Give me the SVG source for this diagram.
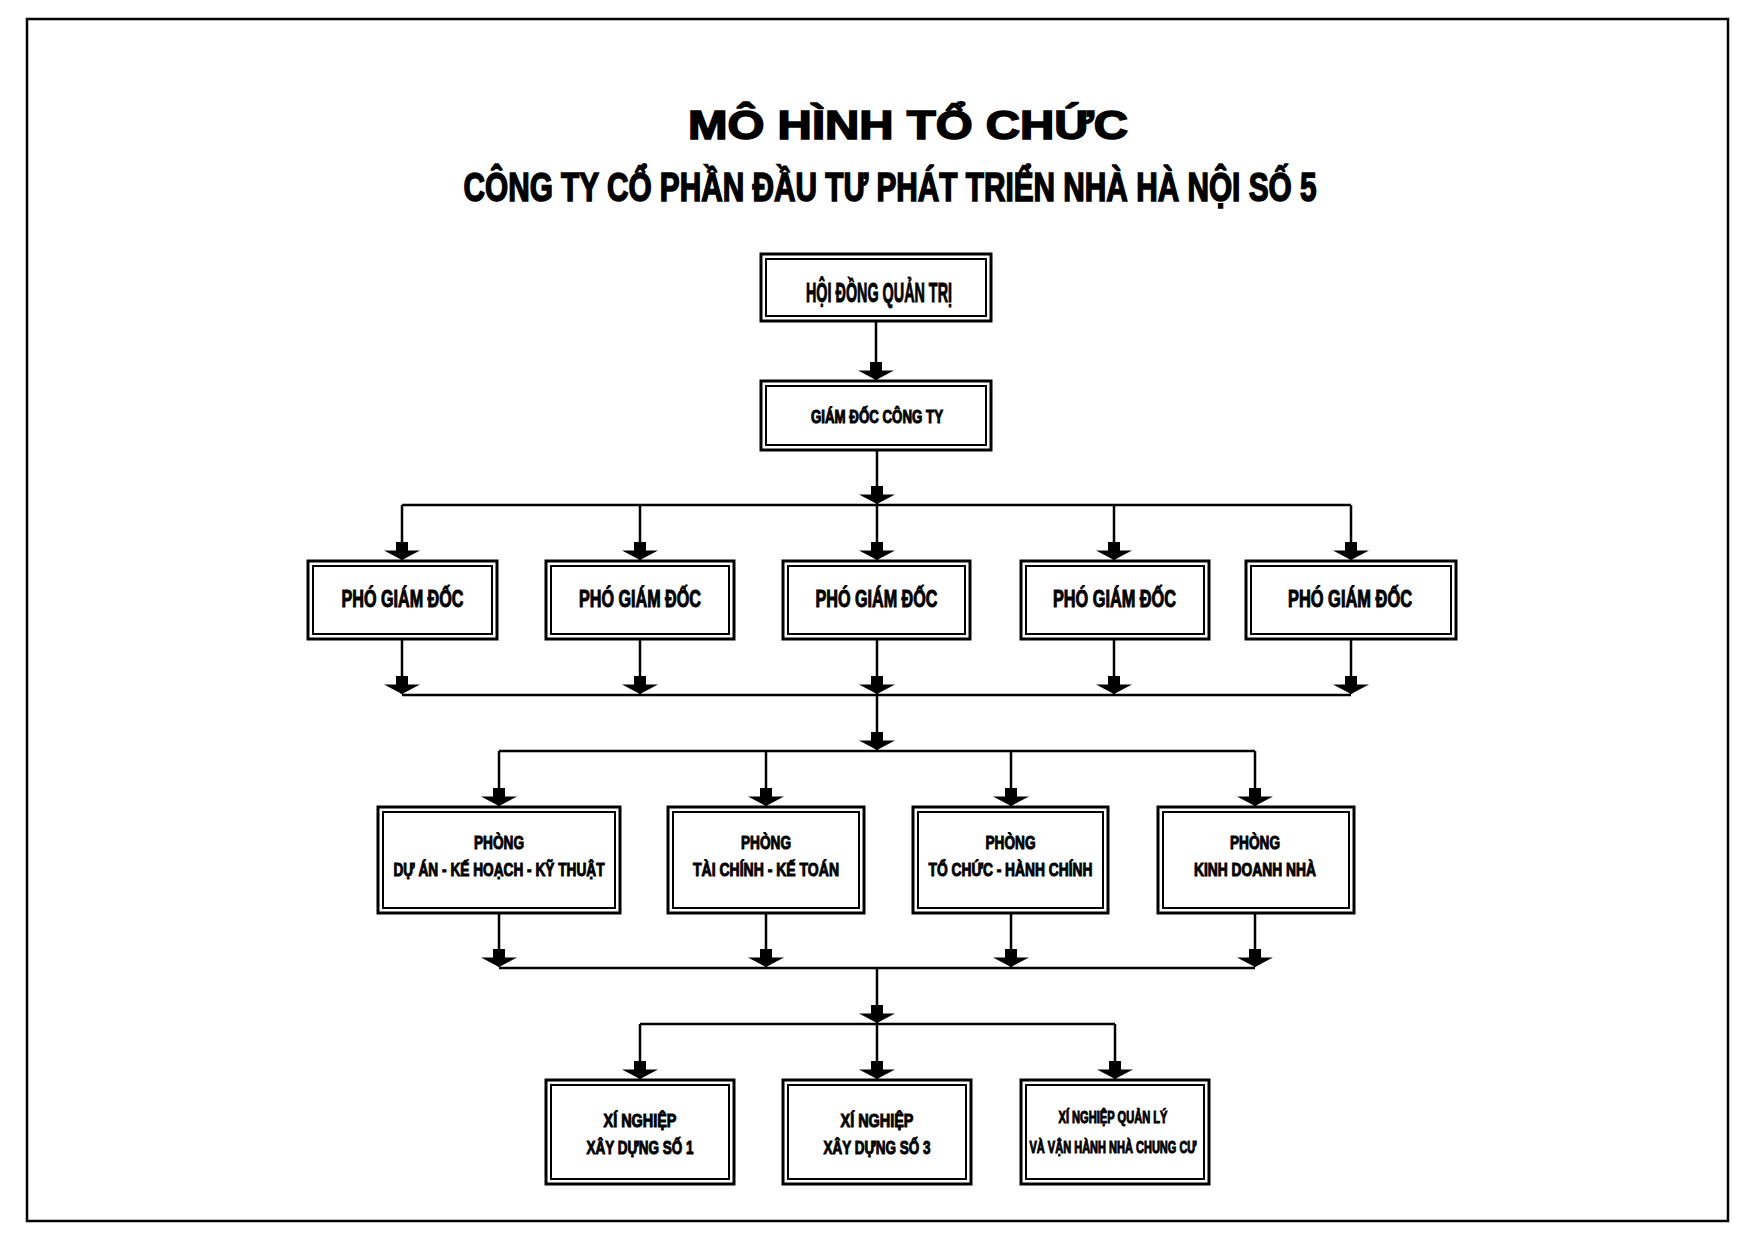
<svg xmlns="http://www.w3.org/2000/svg" xmlns:xlink="http://www.w3.org/1999/xlink" width="1754" height="1240" viewBox="0 0 1754 1240">
<style>
.o{fill:#fff;stroke:#000;stroke-width:3}
.i{fill:none;stroke:#000;stroke-width:2}
.ln{fill:none;stroke:#000;stroke-width:2.5}
.t{font-family:"Liberation Sans",Arial,sans-serif;font-weight:bold;fill:#000;stroke:#000;stroke-width:1;text-anchor:middle}
.title{font-family:"Liberation Sans",Arial,sans-serif;font-weight:bold;fill:#000;stroke:#000;stroke-width:1.6;text-anchor:middle}
</style>
<defs>
<path id="ah" d="M-6,-18 H6 V-9.5 H18 L0,0 L-18,-9.5 H-6 Z" fill="#000"/>
</defs>
<rect x="27" y="19" width="1701" height="1202" fill="#fff" stroke="#000" stroke-width="2.5"/>
<g id="titles">
<text class="title" x="908" y="139" font-size="40" textLength="440" lengthAdjust="spacingAndGlyphs">MÔ HÌNH TỔ CHỨC</text>
<text class="title" x="890" y="201" font-size="41" textLength="853" lengthAdjust="spacingAndGlyphs">CÔNG TY CỔ PHẦN ĐẦU TƯ PHÁT TRIỂN NHÀ HÀ NỘI SỐ 5</text>
</g>
<g id="connectors">
<path class="ln" d="M876,321 V380 M877,450 V560 M402,505 H1351 M402,505 V560 M640,505 V560 M1114,505 V560 M1351,505 V560"/>
<path class="ln" d="M402,639 V694 M640,639 V694 M877,639 V694 M1114,639 V694 M1351,639 V694 M402,695 H1351"/>
<path class="ln" d="M877,695 V750 M499,751 H1255 M499,751 V806 M766,751 V806 M1011,751 V806 M1255,751 V806"/>
<path class="ln" d="M499,913 V967 M766,913 V967 M1011,913 V967 M1255,913 V967 M499,968 H1255"/>
<path class="ln" d="M877,968 V1079 M640,1024 H1115 M640,1024 V1079 M1115,1024 V1079"/>
<use xlink:href="#ah" x="876" y="380"/>
<use xlink:href="#ah" x="877" y="504"/>
<use xlink:href="#ah" x="402" y="560"/>
<use xlink:href="#ah" x="640" y="560"/>
<use xlink:href="#ah" x="877" y="560"/>
<use xlink:href="#ah" x="1114" y="560"/>
<use xlink:href="#ah" x="1351" y="560"/>
<use xlink:href="#ah" x="402" y="694"/>
<use xlink:href="#ah" x="640" y="694"/>
<use xlink:href="#ah" x="877" y="694"/>
<use xlink:href="#ah" x="1114" y="694"/>
<use xlink:href="#ah" x="1351" y="694"/>
<use xlink:href="#ah" x="877" y="750"/>
<use xlink:href="#ah" x="499" y="806"/>
<use xlink:href="#ah" x="766" y="806"/>
<use xlink:href="#ah" x="1011" y="806"/>
<use xlink:href="#ah" x="1255" y="806"/>
<use xlink:href="#ah" x="499" y="967"/>
<use xlink:href="#ah" x="766" y="967"/>
<use xlink:href="#ah" x="1011" y="967"/>
<use xlink:href="#ah" x="1255" y="967"/>
<use xlink:href="#ah" x="877" y="1023"/>
<use xlink:href="#ah" x="640" y="1079"/>
<use xlink:href="#ah" x="877" y="1079"/>
<use xlink:href="#ah" x="1115" y="1079"/>
</g>
<g id="hdqt">
<rect class="o" x="761" y="254" width="230" height="67"/>
<rect class="i" x="766" y="259" width="220" height="57"/>
<text class="t" x="879" y="302" font-size="28" textLength="146" lengthAdjust="spacingAndGlyphs">HỘI ĐỒNG QUẢN TRỊ</text>
</g>
<g id="gd">
<rect class="o" x="761" y="381" width="230" height="69"/>
<rect class="i" x="766" y="386" width="220" height="59"/>
<text class="t" x="877" y="423" font-size="17.5" textLength="132" lengthAdjust="spacingAndGlyphs">GIÁM ĐỐC CÔNG TY</text>
</g>
<g id="pgd1">
<rect class="o" x="308" y="561" width="189" height="78"/>
<rect class="i" x="313" y="566" width="179" height="68"/>
<text class="t" x="402.5" y="607" font-size="23" textLength="122" lengthAdjust="spacingAndGlyphs">PHÓ GIÁM ĐỐC</text>
</g>
<g id="pgd2">
<rect class="o" x="546" y="561" width="188" height="78"/>
<rect class="i" x="551" y="566" width="178" height="68"/>
<text class="t" x="640" y="607" font-size="23" textLength="122" lengthAdjust="spacingAndGlyphs">PHÓ GIÁM ĐỐC</text>
</g>
<g id="pgd3">
<rect class="o" x="783" y="561" width="187" height="78"/>
<rect class="i" x="788" y="566" width="177" height="68"/>
<text class="t" x="876.5" y="607" font-size="23" textLength="122" lengthAdjust="spacingAndGlyphs">PHÓ GIÁM ĐỐC</text>
</g>
<g id="pgd4">
<rect class="o" x="1021" y="561" width="188" height="78"/>
<rect class="i" x="1026" y="566" width="178" height="68"/>
<text class="t" x="1114.5" y="607" font-size="23" textLength="123" lengthAdjust="spacingAndGlyphs">PHÓ GIÁM ĐỐC</text>
</g>
<g id="pgd5">
<rect class="o" x="1246" y="561" width="210" height="78"/>
<rect class="i" x="1251" y="566" width="200" height="68"/>
<text class="t" x="1350" y="607" font-size="23" textLength="124" lengthAdjust="spacingAndGlyphs">PHÓ GIÁM ĐỐC</text>
</g>
<g id="phong1">
<rect class="o" x="378" y="807" width="242" height="106"/>
<rect class="i" x="383" y="812" width="232" height="96"/>
<text class="t" x="499" y="849" font-size="18.5" textLength="50" lengthAdjust="spacingAndGlyphs">PHÒNG</text>
<text class="t" x="499" y="876" font-size="18.5" textLength="211" lengthAdjust="spacingAndGlyphs">DỰ ÁN - KẾ HOẠCH - KỸ THUẬT</text>
</g>
<g id="phong2">
<rect class="o" x="668" y="807" width="196" height="106"/>
<rect class="i" x="673" y="812" width="186" height="96"/>
<text class="t" x="766" y="849" font-size="18.5" textLength="50" lengthAdjust="spacingAndGlyphs">PHÒNG</text>
<text class="t" x="766" y="876" font-size="18.5" textLength="146" lengthAdjust="spacingAndGlyphs">TÀI CHÍNH - KẾ TOÁN</text>
</g>
<g id="phong3">
<rect class="o" x="913" y="807" width="195" height="106"/>
<rect class="i" x="918" y="812" width="185" height="96"/>
<text class="t" x="1010.5" y="849" font-size="18.5" textLength="50" lengthAdjust="spacingAndGlyphs">PHÒNG</text>
<text class="t" x="1010.5" y="876" font-size="18.5" textLength="164" lengthAdjust="spacingAndGlyphs">TỔ CHỨC - HÀNH CHÍNH</text>
</g>
<g id="phong4">
<rect class="o" x="1158" y="807" width="196" height="106"/>
<rect class="i" x="1163" y="812" width="186" height="96"/>
<text class="t" x="1255" y="849" font-size="18.5" textLength="50" lengthAdjust="spacingAndGlyphs">PHÒNG</text>
<text class="t" x="1255" y="876" font-size="18.5" textLength="122" lengthAdjust="spacingAndGlyphs">KINH DOANH NHÀ</text>
</g>
<g id="xn1">
<rect class="o" x="546" y="1080" width="188" height="104"/>
<rect class="i" x="551" y="1085" width="178" height="94"/>
<text class="t" x="640" y="1127" font-size="18.5" textLength="73" lengthAdjust="spacingAndGlyphs">XÍ NGHIỆP</text>
<text class="t" x="640" y="1154" font-size="18.5" textLength="107" lengthAdjust="spacingAndGlyphs">XÂY DỰNG SỐ 1</text>
</g>
<g id="xn3">
<rect class="o" x="783" y="1080" width="188" height="104"/>
<rect class="i" x="788" y="1085" width="178" height="94"/>
<text class="t" x="877" y="1127" font-size="18.5" textLength="73" lengthAdjust="spacingAndGlyphs">XÍ NGHIỆP</text>
<text class="t" x="877" y="1154" font-size="18.5" textLength="107" lengthAdjust="spacingAndGlyphs">XÂY DỰNG SỐ 3</text>
</g>
<g id="xnql">
<rect class="o" x="1021" y="1080" width="188" height="104"/>
<rect class="i" x="1026" y="1085" width="178" height="94"/>
<text class="t" x="1113" y="1123" font-size="16" textLength="109" lengthAdjust="spacingAndGlyphs">XÍ NGHIỆP QUẢN LÝ</text>
<text class="t" x="1113" y="1153" font-size="16" textLength="167" lengthAdjust="spacingAndGlyphs">VÀ VẬN HÀNH NHÀ CHUNG CƯ</text>
</g>
</svg>
